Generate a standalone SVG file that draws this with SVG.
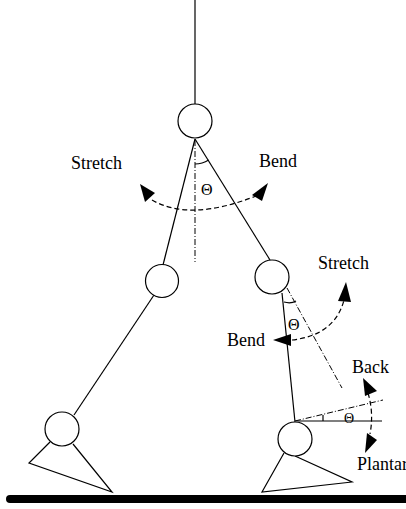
<svg xmlns="http://www.w3.org/2000/svg" width="406" height="509" viewBox="0 0 406 509">
<style>
.ln{stroke:#000;stroke-width:1.2;fill:none}
.jt{stroke:#000;stroke-width:1.2;fill:#fff}
.dd{stroke:#000;stroke-width:1;fill:none;stroke-dasharray:6,2,1,2}
.da{stroke:#000;stroke-width:1.2;fill:none;stroke-dasharray:5,3}
.ar{fill:#000}
.t{font-family:"Liberation Serif","Times New Roman",serif;font-size:18px;fill:#000}
.th{font-family:"Liberation Serif","Times New Roman",serif;font-size:16px;fill:#000}
</style>
<rect width="406" height="509" fill="#fff"/>
<g id="connectors">
<line class="ln" x1="195" y1="0" x2="195" y2="104"/>
<line class="ln" x1="195" y1="139" x2="163" y2="265"/>
<line class="ln" x1="195" y1="139" x2="270" y2="260"/>
<line class="ln" x1="154" y1="295" x2="74" y2="415"/>
<line class="ln" x1="282" y1="293" x2="295" y2="422"/>
<polyline class="ln" points="50,442 29,463 112,492 73,444"/>
<polyline class="ln" points="284,453 262,492 352,482 295,456"/>
<line x1="10" y1="499" x2="406" y2="499" stroke="#000" stroke-width="8" stroke-linecap="round"/>
</g>
<g id="hip">
<circle class="jt" cx="195" cy="121" r="17"/>
</g>
<g id="left-knee">
<circle class="jt" cx="162" cy="281" r="16.5"/>
</g>
<g id="right-knee">
<circle class="jt" cx="272" cy="277" r="17"/>
</g>
<g id="left-ankle">
<circle class="jt" cx="62" cy="429" r="17"/>
</g>
<g id="right-ankle">
<circle class="jt" cx="295" cy="439" r="17"/>
</g>
<g id="hip-angle">
<line class="dd" x1="195" y1="140" x2="195" y2="262"/>
<path class="ln" d="M195,164 A25,25 0 0 0 208.6,160"/>
<text class="th" x="201" y="195">Θ</text>
<path class="da" d="M152,200 Q190,222 256,196"/>
<polygon class="ar" points="140,184 145,202 155,193"/>
<polygon class="ar" points="268,183 252,195 262,201"/>
<text class="t" x="71" y="169">Stretch</text>
<text class="t" x="259" y="167">Bend</text>
</g>
<g id="knee-angle">
<line class="dd" x1="287" y1="288" x2="342" y2="388"/>
<path class="ln" d="M284,302 Q291,304 296,301"/>
<text class="th" x="288" y="330">Θ</text>
<path class="da" d="M292,340 Q335,335 344,300"/>
<polygon class="ar" points="346,282 338,301 351,302"/>
<polygon class="ar" points="273,340 291,334 291,346"/>
<text class="t" x="318" y="269">Stretch</text>
<text class="t" x="227" y="346">Bend</text>
</g>
<g id="ankle-angle">
<line x1="295" y1="421" x2="382" y2="421" stroke="#555" stroke-width="1.6"/>
<line class="dd" x1="295" y1="421" x2="383" y2="400"/>
<path class="ln" d="M323,415 L323,421"/>
<text x="344" y="423" font-family="Liberation Serif,serif" font-size="14">Θ</text>
<path class="da" d="M368,393 Q374,413 370,434"/>
<polygon class="ar" points="363,378 365,396 377,391"/>
<polygon class="ar" points="365,453 367,433 377,440"/>
<text class="t" x="352" y="373">Back</text>
<text class="t" x="357" y="470">Plantar</text>
</g>
</svg>
